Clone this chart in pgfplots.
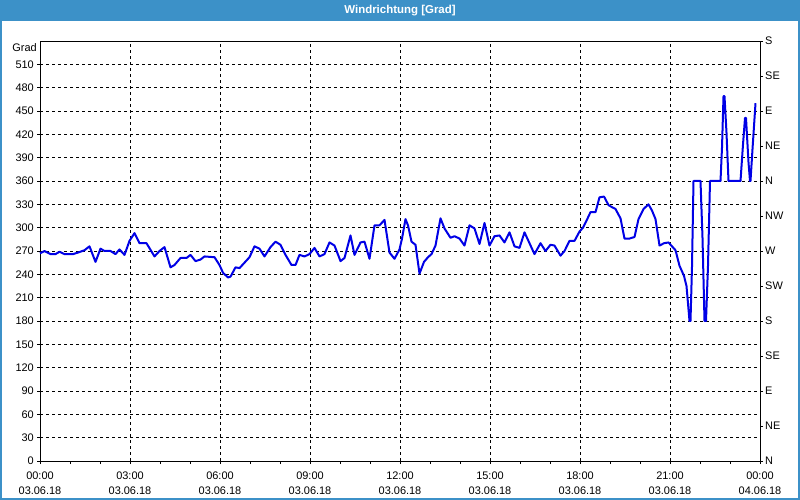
\documentclass[border=0pt]{standalone}
\usepackage{fontspec}
\setmainfont{Liberation Sans}
\usepackage{pgfplots}
\pgfplotsset{compat=1.18}
\definecolor{titlebar}{RGB}{60,145,200}
\definecolor{linec}{RGB}{0,0,230}
\pgfplotstableread{
t v
0 267
9 270
21 266
31 266
39 269
49 266
66 266
76 268
89 271
99 276
111 256
121 273
129 270
141 270
151 266
159 272
169 265
179 283
189 293
199 280
213 280
229 263
239 270
249 275
261 249
269 252
281 261
293 261
301 265
311 257
321 259
329 263
349 262
359 252
366 242
376 236
381 237
391 249
399 248
409 255
419 262
429 276
439 273
449 263
461 275
471 282
481 278
491 265
503 252
511 252
519 265
529 263
539 266
549 274
559 263
569 266
579 281
589 277
601 257
609 261
621 290
629 265
641 281
649 282
659 260
669 303
679 303
689 310
699 268
709 260
719 272
724 286
731 311
736 303
743 282
751 278
759 241
768 256
776 262
783 266
791 277
801 312
809 299
821 287
829 289
839 286
849 277
859 303
869 299
879 279
889 306
899 277
909 289
919 290
929 281
939 294
949 276
959 274
969 294
979 280
989 266
1001 280
1011 270
1021 278
1029 277
1041 264
1049 270
1059 283
1069 283
1079 295
1086 300
1093 309
1101 320
1111 320
1119 339
1128 340
1137 329
1145 326
1151 324
1161 312
1169 286
1179 286
1189 288
1197 311
1207 324
1217 330
1224 322
1231 311
1239 277
1248 280
1257 281
1264 276
1271 271
1279 251
1288 238
1293 225
1299 180
1301 180
1304 250
1307 360
1321 360
1325 287
1329 180
1332 180
1336 251
1340 360
1361 360
1364 403
1367 469
1369 469
1373 422
1377 360
1401 360
1406 407
1410 441
1412 441
1417 384
1420 360
1421 360
1425 401
1431 460
}\winddata
\begin{document}
\begin{tikzpicture}
\useasboundingbox (0bp,0bp) rectangle (800bp,500bp);
\fill[white] (0bp,0bp) rectangle (800bp,500bp);
\fill[titlebar] (0bp,479bp) rectangle (800bp,500bp);
\draw[titlebar, line width=2bp] (1bp,1bp) rectangle (799bp,499bp);
\node[text=white, font=\bfseries\fontsize{11.5pt}{13pt}\selectfont] at (400bp,489.5bp) {Windrichtung [Grad]};
\begin{axis}[
  at={(40bp,39bp)}, anchor=south west, scale only axis,
  width=720bp, height=420bp,
  xmin=0, xmax=1440, ymin=0, ymax=540,
  clip=false,
  axis line style={black, line width=0.8bp},
  xtick={0,180,...,1440},
  minor x tick num=2,
  xticklabels={{00:00\\03.06.18},{03:00\\03.06.18},{06:00\\03.06.18},{09:00\\03.06.18},{12:00\\03.06.18},{15:00\\03.06.18},{18:00\\03.06.18},{21:00\\03.06.18},{00:00\\04.06.18}},
  xticklabel style={align=center, font=\fontsize{11pt}{15pt}\selectfont, inner sep=0pt, yshift=-7.5bp},
  ytick={0,30,...,510},
  yticklabel style={font=\fontsize{11pt}{13pt}\selectfont, inner sep=0pt, xshift=-3bp},
  /pgf/number format/assume math mode=true,
  /pgf/number format/1000 sep={},
  tick align=outside,
  major tick length=3bp, minor tick length=3bp,
  tick style={black, line width=0.8bp},
  xtick pos=lower, ytick pos=left,
  grid=major,
  major grid style={black, line width=0.8bp, dash pattern=on 3bp off 3bp},
]
\addplot[linec, line width=2bp, line join=round, mark=none] table[x=t,y=v] {\winddata};
\node[anchor=east, font=\fontsize{11pt}{13pt}\selectfont, inner sep=0pt] at ([xshift=-3bp]axis cs:0,532) {Grad};
\end{axis}
\begin{axis}[
  at={(40bp,39bp)}, anchor=south west, scale only axis,
  width=720bp, height=420bp,
  xmin=0, xmax=1440, ymin=0, ymax=540,
  axis x line=none, axis y line*=right,
  axis line style={black, line width=0.8bp},
  ytick={0,45,...,540},
  yticklabels={N,NE,E,SE,S,SW,W,NW,N,NE,E,SE,S},
  yticklabel style={font=\fontsize{11pt}{13pt}\selectfont, inner sep=0pt, xshift=2bp},
  tick align=outside, major tick length=3bp,
  tick style={black, line width=0.8bp},
]
\addplot[draw=none] coordinates {(0,0)};
\end{axis}
\end{tikzpicture}
\end{document}
